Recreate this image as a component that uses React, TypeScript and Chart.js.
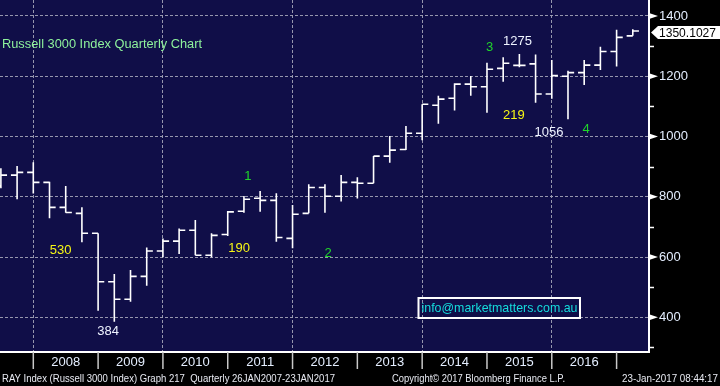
import React, { useEffect, useRef } from "react";
import { Chart, registerables } from "chart.js";

Chart.register(...registerables);

// ---- data ----
const quarters = [
  "2007Q2", "2007Q3", "2007Q4",
  "2008Q1", "2008Q2", "2008Q3", "2008Q4",
  "2009Q1", "2009Q2", "2009Q3", "2009Q4",
  "2010Q1", "2010Q2", "2010Q3", "2010Q4",
  "2011Q1", "2011Q2", "2011Q3", "2011Q4",
  "2012Q1", "2012Q2", "2012Q3", "2012Q4",
  "2013Q1", "2013Q2", "2013Q3", "2013Q4",
  "2014Q1", "2014Q2", "2014Q3", "2014Q4",
  "2015Q1", "2015Q2", "2015Q3", "2015Q4",
  "2016Q1", "2016Q2", "2016Q3", "2016Q4",
  "2017Q1",
];
const opens = [836, 872, 881, 848, 765, 745, 679, 518, 460, 536, 620, 653, 689, 606, 675, 752, 795, 788, 662, 745, 831, 802, 848, 845, 935, 957, 1011, 1104, 1127, 1174, 1165, 1226, 1236, 1241, 1141, 1200, 1212, 1237, 1282, 1334];
const highs = [895, 902, 915, 850, 836, 765, 679, 544, 557, 632, 662, 695, 723, 679, 753, 803, 819, 812, 773, 842, 842, 872, 865, 935, 1002, 1035, 1107, 1135, 1177, 1201, 1245, 1263, 1274, 1272, 1254, 1218, 1254, 1298, 1354, 1356];
const lows = [828, 792, 811, 729, 747, 649, 422, 385, 452, 505, 599, 610, 606, 599, 670, 747, 750, 651, 629, 745, 747, 784, 794, 845, 913, 955, 988, 1042, 1086, 1135, 1079, 1182, 1230, 1112, 1125, 1057, 1171, 1221, 1232, 1334];
const closes = [872, 881, 848, 765, 748, 679, 518, 460, 536, 620, 653, 689, 606, 672, 750, 792, 788, 665, 742, 831, 802, 848, 845, 935, 955, 1011, 1107, 1124, 1174, 1165, 1223, 1243, 1236, 1141, 1202, 1212, 1237, 1282, 1329, 1350.1027];

const yearLabels = ["2008", "2009", "2010", "2011", "2012", "2013", "2014", "2015", "2016"];
const yMajorTicks = [400, 600, 800, 1000, 1200, 1400];
const yMinorTicks = [300, 500, 700, 900, 1100, 1300];
const lastPriceLabel = "1350.1027";

const annoTexts = ["530", "384", "1", "190", "2", "3", "1275", "219", "1056", "4"];
const annoQuarters = [1.68, 4.62, 13.25, 12.7, 18.19, 28.16, 29.88, 29.66, 31.83, 34.12];
const annoValues = [623, 352, 866, 629, 613, 1297, 1316, 1070, 1012, 1025];
const annoKinds = ["y", "w", "g", "y", "g", "g", "w", "y", "w", "g"];

const titleText = "Russell 3000 Index Quarterly Chart";
const emailText = "info@marketmatters.com.au";
const footerLeft = "RAY Index (Russell 3000 Index) Graph 217  Quarterly 26JAN2007-23JAN2017";
const footerMid = "Copyright\u00A9 2017 Bloomberg Finance L.P.";
const footerRight = "23-Jan-2017 08:44:17";

// quarter index relative to 2007 Q4 (year-end marks)
const qIndex = (s: string) => (parseInt(s.slice(0, 4), 10) - 2007) * 4 + parseInt(s.slice(5), 10) - 4;
const yearMid = (y: string) => (parseInt(y, 10) - 2007) * 4 - 2;

const FONT = '"Liberation Sans", Arial, sans-serif';
const NAVY = "#100e48";
const GRID = "rgba(165,165,185,0.9)";
const LABEL = "#e4eeff";

function fitText(ctx: CanvasRenderingContext2D, text: string, x: number, y: number, w: number, font: string, color: string) {
  ctx.save();
  ctx.font = font;
  ctx.fillStyle = color;
  ctx.textBaseline = "middle";
  ctx.textAlign = "left";
  const m = ctx.measureText(text).width;
  ctx.translate(x, y);
  ctx.scale(w / m, 1);
  ctx.fillText(text, 0, 0);
  ctx.restore();
}

export default function App() {
  const ref = useRef<HTMLCanvasElement | null>(null);

  useEffect(() => {
    if (!ref.current) return;
    const pts: { x: number; y: number | null }[] = [];
    const tw = 0.38;
    quarters.forEach((q, k) => {
      const i = qIndex(q);
      pts.push({ x: i - tw, y: opens[k] }, { x: i, y: opens[k] }, { x: i, y: null });
      pts.push({ x: i, y: highs[k] }, { x: i, y: lows[k] }, { x: i, y: null });
      pts.push({ x: i, y: closes[k] }, { x: i + tw, y: closes[k] }, { x: i + tw, y: null });
    });

    const colorOf = (k: string) => (k === "y" ? "#f6f615" : k === "g" ? "#1fd62a" : "#eef3ff");

    const decor = {
      id: "decor",
      beforeDraw(chart: any) {
        const { ctx, chartArea: a } = chart;
        ctx.save();
        ctx.fillStyle = "#000";
        ctx.fillRect(0, 0, chart.width, chart.height);
        ctx.fillStyle = NAVY;
        ctx.fillRect(a.left, a.top, a.right - a.left, a.bottom - a.top);
        ctx.restore();
      },
      afterDraw(chart: any) {
        const { ctx, chartArea: a } = chart;
        const xs = chart.scales.x;
        const ys = chart.scales.y;
        ctx.save();
        // right axis arrows + minor ticks
        ctx.fillStyle = "#fff";
        yMajorTicks.forEach((v) => {
          const p = ys.getPixelForValue(v);
          ctx.beginPath();
          ctx.moveTo(a.right, p - 3);
          ctx.lineTo(a.right + 9, p);
          ctx.lineTo(a.right, p + 3);
          ctx.closePath();
          ctx.fill();
        });
        ctx.strokeStyle = "#fff";
        ctx.lineWidth = 1.5;
        yMinorTicks.forEach((v) => {
          const p = Math.round(ys.getPixelForValue(v)) + 0.5;
          ctx.beginPath();
          ctx.moveTo(a.right, p);
          ctx.lineTo(a.right + 5, p);
          ctx.stroke();
        });
        // year separators
        ctx.strokeStyle = "#c8c8c8";
        ctx.lineWidth = 1.5;
        for (let k = 0; k <= yearLabels.length; k++) {
          const px = xs.getPixelForValue(yearMid(yearLabels[0]) - 2 + 4 * k);
          ctx.beginPath();
          ctx.moveTo(px, a.bottom);
          ctx.lineTo(px, a.bottom + 17);
          ctx.stroke();
        }
        // annotations
        ctx.font = `13px ${FONT}`;
        ctx.textAlign = "center";
        ctx.textBaseline = "middle";
        annoTexts.forEach((t, k) => {
          ctx.fillStyle = colorOf(annoKinds[k]);
          ctx.fillText(t, xs.getPixelForValue(annoQuarters[k]), ys.getPixelForValue(annoValues[k]));
        });
        // title
        fitText(ctx, titleText, 2, 44, 200, `13px ${FONT}`, "#8ef29c");
        // email box
        ctx.strokeStyle = "#fff";
        ctx.lineWidth = 2;
        ctx.strokeRect(418.5, 298, 161.5, 20);
        fitText(ctx, emailText, 421.5, 308.5, 156, `13px ${FONT}`, "#14dcdc");
        // footer
        fitText(ctx, footerLeft, 2, 378.5, 333, `11px ${FONT}`, "#e8eaf2");
        fitText(ctx, footerMid, 392, 378.5, 173, `11px ${FONT}`, "#e8eaf2");
        fitText(ctx, footerRight, 622, 378.5, 96, `11px ${FONT}`, "#e8eaf2");
        // last price label
        const lp = ys.getPixelForValue(closes[closes.length - 1]) + 1.5;
        ctx.fillStyle = "#fff";
        ctx.beginPath();
        ctx.moveTo(a.right + 2, lp);
        ctx.lineTo(a.right + 9, lp - 6.5);
        ctx.lineTo(chart.width, lp - 6.5);
        ctx.lineTo(chart.width, lp + 6.5);
        ctx.lineTo(a.right + 9, lp + 6.5);
        ctx.closePath();
        ctx.fill();
        fitText(ctx, lastPriceLabel, a.right + 10, lp + 0.5, 57, `13px ${FONT}`, "#000");
        ctx.restore();
      },
    };

    const chart = new Chart(ref.current, {
      type: "line",
      data: {
        datasets: [
          {
            data: pts as any,
            borderColor: "#ffffff",
            borderWidth: 1.6,
            pointRadius: 0,
            spanGaps: false,
            tension: 0,
            fill: false,
          },
        ],
      },
      options: {
        responsive: false,
        animation: false,
        devicePixelRatio: 1,
        events: [],
        layout: { padding: 0 },
        plugins: { legend: { display: false }, tooltip: { enabled: false }, title: { display: false } },
        scales: {
          x: {
            type: "linear",
            position: "bottom",
            min: -2.055,
            max: 38.0,
            afterBuildTicks: (s: any) => {
              const t: any[] = [];
              for (let v = 0; v <= 36; v += 2) t.push({ value: v });
              s.ticks = t;
            },
            afterFit: (s: any) => {
              s.height = 34;
              s.paddingLeft = 0;
              s.paddingRight = 0;
            },
            ticks: {
              autoSkip: false,
              maxRotation: 0,
              padding: 3,
              color: LABEL,
              font: { family: FONT, size: 13 },
              callback: (v: any) => {
                const y = yearLabels.find((l) => yearMid(l) === v);
                return y || "";
              },
            },
            grid: {
              drawTicks: false,
              lineWidth: 1,
              color: (c: any) => (c.tick && c.tick.value % 8 === 0 ? GRID : "transparent"),
            },
            border: { display: true, color: "#ffffff", width: 2, dash: [3, 2] },
          },
          y: {
            type: "linear",
            position: "right",
            min: 285,
            max: 1453,
            afterBuildTicks: (s: any) => {
              s.ticks = [...yMinorTicks, ...yMajorTicks].sort((p, q) => p - q).map((v) => ({ value: v }));
            },
            afterFit: (s: any) => {
              s.width = 71;
              s.paddingTop = 0;
              s.paddingBottom = 0;
            },
            ticks: {
              autoSkip: false,
              padding: 10,
              color: LABEL,
              font: { family: FONT, size: 13 },
              callback: (v: any) => (yMajorTicks.includes(v) ? String(v) : ""),
            },
            grid: {
              drawTicks: false,
              lineWidth: 1,
              color: (c: any) => (c.tick && yMajorTicks.includes(c.tick.value) ? GRID : "transparent"),
            },
            border: { display: true, color: "#ffffff", width: 2, dash: [3, 2] },
          },
        },
      } as any,
      plugins: [decor],
    });
    return () => chart.destroy();
  }, []);

  return (
    <div style={{ position: "absolute", left: 0, top: 0, width: 720, height: 386, background: "#000" }}>
      <canvas ref={ref} width={720} height={386} style={{ display: "block", width: 720, height: 386 }} />
    </div>
  );
}
